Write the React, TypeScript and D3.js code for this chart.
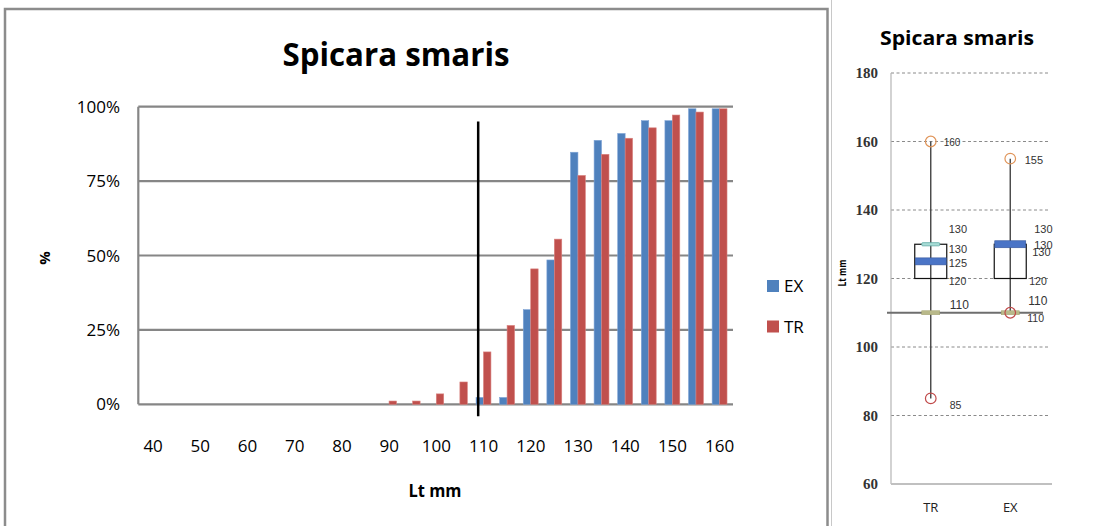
import React from 'react';
import * as d3 from 'd3';

// ---------- Left chart data (cumulative %) ----------
const lengthClasses = [40,45,50,55,60,65,70,75,80,85,90,95,100,105,110,115,120,125,130,135,140,145,150,155,160];
const exValues = [0,0,0,0,0,0,0,0,0,0,0,0,0,0,2.3,2.3,31.8,48.5,84.7,88.7,91.0,95.3,95.3,99.3,99.3];
const trValues = [0,0,0,0,0,0,0,0,0,0,1.1,1.1,3.5,7.5,17.6,26.5,45.5,55.5,76.9,84.0,89.4,92.9,97.2,98.2,99.3];
const seriesNames = ['EX', 'TR'];
const seriesColors = ['#4F81BD', '#C0504D'];
const yTicks = [0, 25, 50, 75, 100];
const xTickLabels = [40,50,60,70,80,90,100,110,120,130,140,150,160];
const markerLength = 110;

// ---------- Right chart data (box plot) ----------
const boxCategories = ['TR', 'EX'];
const boxMin = [85, 110];
const boxQ1 = [120, 120];
const boxMedian = [125, 130];
const boxQ3 = [130, 130];
const boxMax = [160, 155];
const boxTealMark = [130, null];
const mlsValue = 110;
const boxYTicks = [60, 80, 100, 120, 140, 160, 180];
// labels: [category, text, value, dx, dy, size]
const boxLabels: [string, string, number, number, number, number][] = [
  ['TR', '160', 160, 13, 1, 10],
  ['TR', '130', 130, 18, -15, 11],
  ['TR', '130', 130, 18, 4.5, 11],
  ['TR', '125', 125, 18, 1.5, 11],
  ['TR', '120', 120, 18, 2, 10.5],
  ['TR', '110', 110, 19, -8, 12],
  ['TR', '85', 85, 19, 7, 10.5],
  ['EX', '155', 155, 14.5, 1, 11],
  ['EX', '130', 130, 24, -15, 11],
  ['EX', '130', 130, 24, 1, 11],
  ['EX', '130', 130, 22, 7.5, 11],
  ['EX', '120', 120, 19, 2, 10.5],
  ['EX', '110', 110, 18, -12, 12],
  ['EX', '110', 110, 17, 5.5, 10.5],
];

export default function App() {
  // Left chart scales
  const x = d3.scaleBand<number>().domain(lengthClasses).range([141.3, 731.5]).padding(0);
  const bw = x.bandwidth();
  const xs = d3.scaleBand<string>().domain(seriesNames).range([bw * 0.18, bw * 0.81]).padding(0);
  const y = d3.scaleLinear().domain([0, 100]).range([404.3, 106.7]);
  const plotLeft = 138.3, plotRight = 733;

  // Right chart scales
  const bx = d3.scaleBand<string>().domain(boxCategories).range([891, 1050]).padding(0);
  const by = d3.scaleLinear().domain([60, 180]).range([484, 73]);
  const cx = (c: string) => (bx(c) as number) + bx.bandwidth() / 2;
  const boxHalf = 16;

  const sans = '"Open Sans", sans-serif';
  const data = [exValues, trValues];

  return (
    <svg width={1093} height={526} style={{ position: 'absolute', left: 0, top: 0, background: '#fff' }}>
      <rect x={0} y={0} width={1093} height={526} fill="#fff" />
      {/* Left frame */}
      <rect x={5} y={9} width={822.5} height={540} fill="none" stroke="#8c8c8c" strokeWidth={2.5} />
      <line x1={831.5} x2={831.5} y1={0} y2={526} stroke="#c8c8c8" strokeWidth={1} />

      {/* Left title */}
      <text x={396} y={66} textAnchor="middle" fontFamily={sans} fontWeight="bold" fontSize={33}
        textLength={227} lengthAdjust="spacingAndGlyphs">Spicara smaris</text>

      {/* Gridlines */}
      {yTicks.map(t => (
        <line key={'g' + t} x1={plotLeft} x2={plotRight} y1={y(t)} y2={y(t)} stroke="#868686" strokeWidth={2.2} />
      ))}
      <line x1={plotLeft} x2={plotLeft} y1={y(100)} y2={y(0)} stroke="#868686" strokeWidth={2.2} />
      {yTicks.map(t => (
        <text key={'yt' + t} x={120} y={y(t) + 6} textAnchor="end" fontFamily={sans} fontSize={17}>{t}%</text>
      ))}
      <text transform={`translate(50,258) rotate(-90)`} textAnchor="middle" fontFamily={sans} fontWeight="bold" fontSize={15}>%</text>

      {/* Bars */}
      {lengthClasses.map((c, i) => (
        <g key={'b' + c} transform={`translate(${x(c)},0)`}>
          {seriesNames.map((s, si) => {
            const v = data[si][i];
            if (v <= 0) return null;
            return (
              <rect key={s} x={xs(s)} width={xs.bandwidth()} y={y(v)} height={y(0) - y(v)}
                fill={seriesColors[si]} stroke={si === 0 ? '#7ea3d6' : '#d9827f'} strokeWidth={0.6} />
            );
          })}
        </g>
      ))}

      {/* Marker line */}
      <line x1={(x(markerLength) as number) + bw * 0.27} x2={(x(markerLength) as number) + bw * 0.27}
        y1={y(95)} y2={y(0) + 12} stroke="#000" strokeWidth={2.5} />

      {/* X labels */}
      {xTickLabels.map(t => (
        <text key={'xt' + t} x={(x(t) as number) + bw / 2} y={452} textAnchor="middle" fontFamily={sans} fontSize={17}>{t}</text>
      ))}
      <text x={435} y={497} textAnchor="middle" fontFamily={sans} fontWeight="bold" fontSize={18}
        textLength={53} lengthAdjust="spacingAndGlyphs">Lt mm</text>

      {/* Legend */}
      {seriesNames.map((s, i) => (
        <g key={'l' + s} transform={`translate(767,${280 + i * 40.5})`}>
          <rect x={0} y={0} width={12} height={12} fill={seriesColors[i]} />
          <text x={17} y={12} fontFamily={sans} fontSize={17}>{s}</text>
        </g>
      ))}

      {/* ---------- Right panel ---------- */}
      <text x={957} y={45} textAnchor="middle" fontFamily={sans} fontWeight="bold" fontSize={19}
        textLength={154} lengthAdjust="spacingAndGlyphs">Spicara smaris</text>

      {boxYTicks.filter(t => t > 60).map(t => (
        <line key={'bg' + t} x1={891} x2={1049} y1={by(t)} y2={by(t)} stroke="#8a8a8a" strokeWidth={1} strokeDasharray="3,2.5" />
      ))}
      <line x1={891} x2={891} y1={by(180)} y2={by(60)} stroke="#b5b5b5" strokeWidth={1.2} />
      <line x1={891} x2={1052} y1={by(60)} y2={by(60)} stroke="#c0c0c0" strokeWidth={2} />
      {boxYTicks.map(t => (
        <text key={'byt' + t} x={878} y={by(t) + 5} textAnchor="end" fontFamily='"Liberation Serif", serif'
          fontWeight="bold" fontSize={15} fill="#333">{t}</text>
      ))}
      <text transform={`translate(845.5,273) rotate(-90)`} textAnchor="middle" fontFamily={sans} fontWeight="bold" fontSize={10}
        textLength={27} lengthAdjust="spacingAndGlyphs">Lt mm</text>
      {boxCategories.map(c => (
        <text key={'bc' + c} x={cx(c)} y={512} textAnchor="middle" fontFamily={sans} fontSize={13} fill="#222">{c}</text>
      ))}

      {/* MLS line */}
      <line x1={887} x2={1043} y1={by(mlsValue)} y2={by(mlsValue)} stroke="#6e6e6e" strokeWidth={2} />

      {boxCategories.map((c, i) => {
        const xc = cx(c);
        return (
          <g key={'box' + c}>
            <line x1={xc} x2={xc} y1={by(boxMax[i])} y2={by(boxMin[i])} stroke="#444" strokeWidth={1.4} />
            <rect x={xc - boxHalf} y={by(boxQ3[i])} width={boxHalf * 2} height={by(boxQ1[i]) - by(boxQ3[i])}
              fill="none" stroke="#111" strokeWidth={1.2} />
            <rect x={xc - boxHalf + 0.5} y={by(boxMedian[i]) - 3.5} width={boxHalf * 2 - 1} height={7}
              fill="#4a74c6" stroke="#35559a" strokeWidth={0.6} />
            {boxTealMark[i] != null && (
              <rect x={xc - 9} y={by(boxTealMark[i] as number) - 1.6} width={18} height={3.2}
                fill="#a8dcd6" stroke="#5fa9a5" strokeWidth={0.8} rx={1} />
            )}
            <rect x={xc - 9} y={by(mlsValue) - 2} width={18} height={4} fill="#b9b98a" stroke="#a3a370" strokeWidth={0.5} />
            <circle cx={xc} cy={by(boxMax[i])} r={5.3} fill="none" stroke="#e0955a" strokeWidth={1.2} />
            <circle cx={xc} cy={by(boxMin[i])} r={5.3} fill="none" stroke="#c04a4a" strokeWidth={1.2} />
          </g>
        );
      })}

      {boxLabels.map(([c, txt, v, dx, dy, size], i) => (
        <text key={'lab' + i} x={cx(c) + dx} y={by(v) + dy} dominantBaseline="central"
          fontFamily='"Liberation Sans", sans-serif' fontSize={size} fill="#333">{txt}</text>
      ))}
    </svg>
  );
}
